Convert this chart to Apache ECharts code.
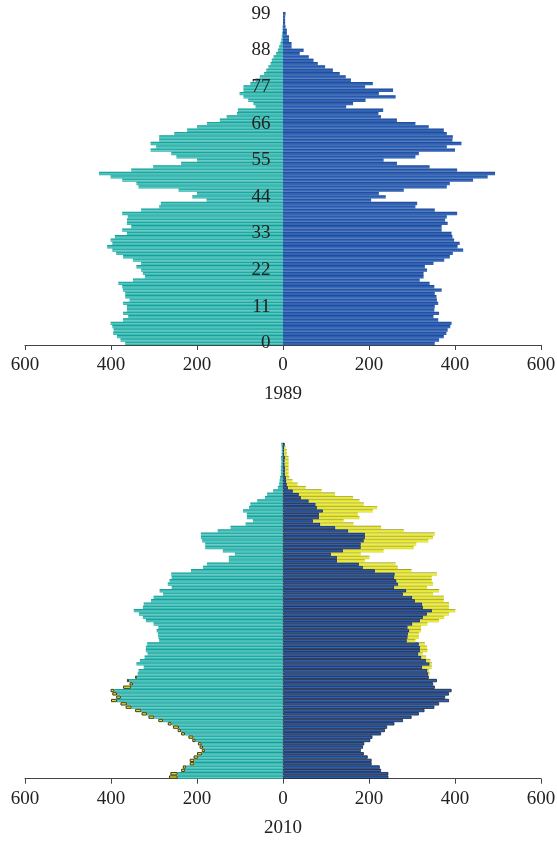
<!DOCTYPE html>
<html>
<head>
<meta charset="utf-8">
<script src="https://cdn.jsdelivr.net/npm/echarts@6/dist/echarts.min.js"></script>
<style>
  html, body { margin: 0; padding: 0; background: #fff; }
  #chart { width: 557px; height: 841px; }
</style>
</head>
<body>
<div id="chart"></div>
<script>
// ages 0..99 (1989), ages 0..100 (2010)
var ages1989 = [];
for (var i = 0; i <= 99; i++) ages1989.push(String(i));
var ages2010 = [];
for (var j = 0; j <= 100; j++) ages2010.push(String(j));

var male1989 = [367, 378, 386, 395, 394, 397, 401, 372, 360, 372, 363, 363, 372, 357, 367, 367, 372, 374, 383, 349,
  321, 326, 330, 341, 330, 349, 372, 388, 397, 409, 397, 401, 391, 363, 374, 353, 363, 363, 361, 374,
  330, 288, 284, 178, 211, 200, 243, 336, 341, 374, 401, 428, 353, 302, 237, 200, 248, 260, 308, 295,
  308, 288, 288, 253, 223, 200, 177, 147, 131, 107, 105, 64, 69, 81, 92, 101, 92, 92, 76, 64,
  54, 44, 39, 34, 29, 26, 22, 16, 12, 9, 6, 4, 3, 2, 1, 1, 0, 0, 0, 0];
var female1989 = [353, 363, 374, 380, 383, 389, 392, 361, 350, 363, 352, 353, 361, 358, 357, 353, 369, 352, 341, 318,
  327, 327, 335, 330, 350, 375, 388, 395, 419, 406, 411, 398, 394, 392, 369, 369, 383, 377, 381, 405,
  353, 308, 312, 205, 239, 223, 281, 381, 388, 442, 476, 493, 405, 341, 265, 234, 308, 316, 400, 381,
  415, 394, 395, 381, 374, 339, 308, 265, 228, 222, 233, 147, 163, 192, 262, 223, 256, 191, 209, 158,
  146, 132, 116, 98, 81, 71, 60, 39, 48, 20, 20, 14, 14, 9, 9, 6, 5, 5, 5, 6];

var male2010 = [265, 262, 237, 233, 217, 217, 208, 200, 189, 194, 198, 211, 220, 237, 245, 256, 268, 290, 313, 329,
  344, 366, 378, 400, 388, 397, 401, 372, 357, 363, 344, 338, 336, 324, 341, 333, 322, 315, 319, 319,
  316, 288, 290, 291, 294, 290, 301, 319, 326, 335, 347, 326, 324, 307, 301, 279, 287, 259, 268, 264,
  259, 260, 214, 186, 177, 126, 126, 112, 140, 181, 181, 188, 191, 191, 152, 122, 87, 70, 84, 84,
  93, 79, 76, 60, 42, 37, 23, 12, 9, 8, 7, 5, 5, 5, 4, 4, 5, 3, 3, 3, 4];
var female2010 = [245, 245, 228, 225, 206, 206, 197, 188, 181, 186, 189, 203, 208, 228, 237, 242, 259, 279, 299, 316,
  329, 352, 363, 386, 377, 386, 392, 353, 349, 358, 339, 341, 339, 346, 346, 343, 333, 325, 336, 335,
  330, 308, 316, 316, 321, 321, 336, 363, 375, 386, 401, 386, 386, 374, 374, 349, 363, 335, 349, 346,
  346, 358, 299, 267, 262, 190, 201, 181, 234, 304, 310, 338, 349, 353, 281, 228, 164, 141, 178, 174,
  209, 219, 188, 178, 163, 121, 90, 53, 34, 22, 15, 13, 13, 13, 13, 13, 13, 9, 9, 6, 4];

var serif = '"Liberation Serif", "DejaVu Serif", serif';

// 2010: common part in the sex colour, surplus in yellow
var leftCommon = male2010.map(function (m, k) { return -Math.min(m, female2010[k]); });
var leftExtra = male2010.map(function (m, k) { var d = m - female2010[k]; return d > 0 ? -d : null; });
var rightCommon = female2010.map(function (f, k) { return Math.min(f, male2010[k]); });
var rightExtra = female2010.map(function (f, k) { var d = f - male2010[k]; return d > 0 ? d : null; });

var G = echarts.graphic.LinearGradient;
var teal = new G(0, 0, 0, 1, [
  { offset: 0, color: '#0b968f' }, { offset: 0.3, color: '#22b0a9' },
  { offset: 0.6, color: '#6acdc7' }, { offset: 1, color: '#1eaca5' }]);
var blue = new G(0, 0, 0, 1, [
  { offset: 0, color: '#1a4590' }, { offset: 0.35, color: '#2757aa' },
  { offset: 0.7, color: '#3c6ec0' }, { offset: 1, color: '#2656a8' }]);
var navy = new G(0, 0, 0, 1, [
  { offset: 0, color: '#1a2846' }, { offset: 0.3, color: '#2453a2' },
  { offset: 0.65, color: '#3169bd' }, { offset: 1, color: '#1f3b70' }]);
var yellow = new G(0, 0, 0, 1, [
  { offset: 0, color: '#7f7f34' }, { offset: 0.3, color: '#e0e030' },
  { offset: 0.65, color: '#f0f040' }, { offset: 1, color: '#d2d232' }]);

function xAxisFor(idx, name) {
  return {
    gridIndex: idx,
    type: 'value',
    min: -600, max: 600, interval: 200,
    name: name,
    nameLocation: 'middle',
    nameGap: 40,
    nameTextStyle: { fontFamily: serif, fontSize: 19, color: '#222' },
    axisLine: { show: true, onZero: false, lineStyle: { color: '#444', width: 1 } },
    axisTick: { show: true, length: 5, lineStyle: { color: '#444' } },
    axisLabel: {
      fontFamily: serif, fontSize: 19, color: '#222', margin: 11,
      showMinLabel: true, showMaxLabel: true,
      formatter: function (v) { return Math.abs(v); }
    },
    splitLine: { show: false }
  };
}

var chart = echarts.init(document.getElementById('chart'));
var option = {
  animation: false,
  grid: [
    { left: 25, right: 16, top: 12, height: 333, outerBoundsMode: 'none' },
    { left: 25, right: 16, top: 442.7, height: 336, outerBoundsMode: 'none' }
  ],
  xAxis: [xAxisFor(0, '1989'), xAxisFor(1, '2010')],
  yAxis: [
    {
      gridIndex: 0, type: 'category', data: ages1989, z: 10,
      offset: -257.5,
      axisLine: { show: false, onZero: false },
      axisTick: { show: false },
      axisLabel: { interval: 10, fontFamily: serif, fontSize: 19, color: '#222', margin: 12 }
    },
    {
      gridIndex: 1, type: 'category', data: ages2010, z: 10,
      axisLine: { show: false, onZero: false },
      axisTick: { show: false },
      axisLabel: { show: false }
    }
  ],
  series: [
    {
      name: 'male1989', type: 'bar', xAxisIndex: 0, yAxisIndex: 0,
      data: male1989.map(function (v) { return -v; }),
      barWidth: '100%', barGap: '-100%', itemStyle: { color: teal }
    },
    {
      name: 'female1989', type: 'bar', xAxisIndex: 0, yAxisIndex: 0,
      data: female1989,
      barWidth: '100%', barGap: '-100%', itemStyle: { color: blue }
    },
    {
      name: 'maleCommon', type: 'bar', xAxisIndex: 1, yAxisIndex: 1, stack: 'L',
      data: leftCommon, barWidth: '100%', barGap: '-100%', itemStyle: { color: teal }
    },
    {
      name: 'maleSurplus', type: 'bar', xAxisIndex: 1, yAxisIndex: 1, stack: 'L',
      data: leftExtra, barWidth: '100%', barGap: '-100%',
      itemStyle: { color: '#e2e22e', borderColor: '#3d3d1c', borderWidth: 1 }
    },
    {
      name: 'femaleCommon', type: 'bar', xAxisIndex: 1, yAxisIndex: 1, stack: 'R',
      data: rightCommon, barWidth: '100%', barGap: '-100%',
      itemStyle: { color: navy, borderColor: '#1b2642', borderWidth: 0.8 }
    },
    {
      name: 'femaleSurplus', type: 'bar', xAxisIndex: 1, yAxisIndex: 1, stack: 'R',
      data: rightExtra, barWidth: '100%', barGap: '-100%', itemStyle: { color: yellow }
    }
  ]
};
chart.setOption(option);
window.addEventListener('resize', function () { chart.resize(); });
</script>
</body>
</html>
